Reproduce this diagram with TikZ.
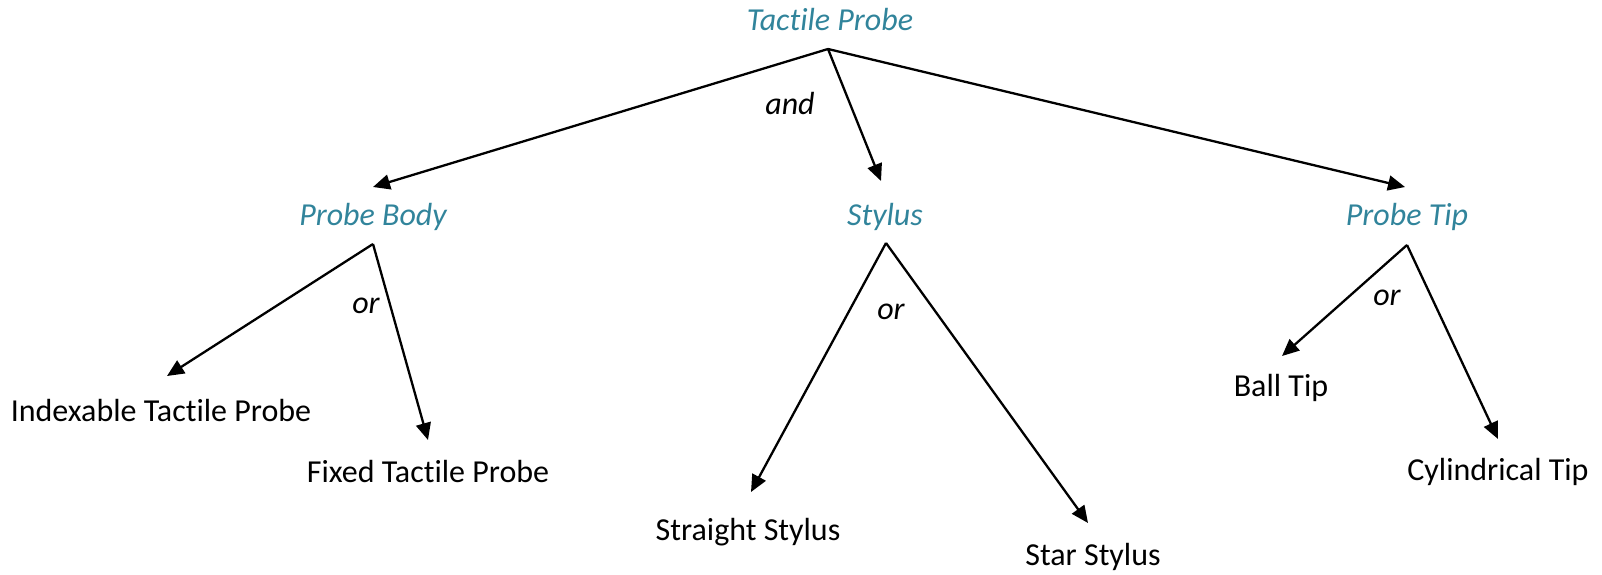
\documentclass[tikz,border=0pt]{standalone}
\usepackage{fontspec}
\setmainfont{Carlito}[Ligatures=NoCommon]
\usetikzlibrary{arrows.meta}
\definecolor{teal}{RGB}{49,132,155}
\begin{document}
\begin{tikzpicture}[x=1pt,y=-1pt,
  every node/.style={inner sep=0pt,font=\fontsize{32}{36}\selectfont},
  category/.style={text=teal,font=\fontsize{32}{36}\selectfont\itshape},
  item/.style={text=black},
  conj/.style={text=black,font=\fontsize{32}{36}\selectfont\itshape},
  link/.style={line width=2.3pt,-{Triangle[length=17pt,width=15pt]}}]
\useasboundingbox (0,0) rectangle (1602,575);

% labels
\node[category] (tp) at (830,20) {Tactile Probe};
\node[category] (pb) at (373,217) {Probe Body};
\node[category] (st) at (885,217) {Stylus};
\node[category] (pt) at (1407,217) {Probe Tip};

\node[item] (itp) at (161,411) {Indexable Tactile Probe};
\node[item] (ftp) at (428,472) {Fixed Tactile Probe};
\node[item] (sst) at (748,532) {Straight Stylus};
\node[item] (rst) at (1093,557) {Star Stylus};
\node[item] (bt) at (1281,388) {Ball Tip};
\node[item] (ct) at (1498,472) {Cylindrical Tip};

\node[conj] (and) at (790,103) {and};
\node[conj] (or1) at (366,306) {or};
\node[conj] (or2) at (891,312) {or};
\node[conj] (or3) at (1387,298) {or};

% branching points and arrow ends
\coordinate (tpA) at (828,49);
\coordinate (pbA) at (373,244);
\coordinate (stA) at (886,243);
\coordinate (ptA) at (1407,245);

\coordinate (pbT) at (373,187);
\coordinate (stT) at (881,181);
\coordinate (ptT) at (1405,187);
\coordinate (itpT) at (167,376);
\coordinate (ftpT) at (428,440);
\coordinate (sstT) at (751,492);
\coordinate (rstT) at (1088,523);
\coordinate (btT) at (1282,356);
\coordinate (ctT) at (1498,439);

% connectors
\draw[link] (tpA) -- (pbT);
\draw[link] (tpA) -- (stT);
\draw[link] (tpA) -- (ptT);
\draw[link] (pbA) -- (itpT);
\draw[link] (pbA) -- (ftpT);
\draw[link] (stA) -- (sstT);
\draw[link] (stA) -- (rstT);
\draw[link] (ptA) -- (btT);
\draw[link] (ptA) -- (ctT);
\end{tikzpicture}
\end{document}
